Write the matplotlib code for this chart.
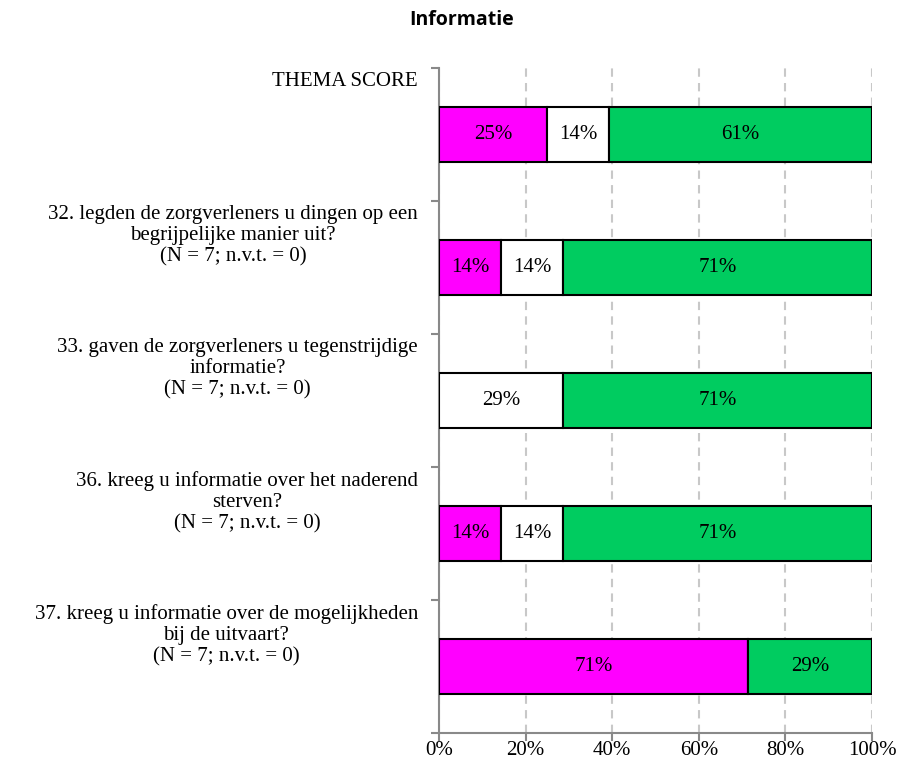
import matplotlib
matplotlib.use("Agg")
import matplotlib.pyplot as plt
import matplotlib.transforms as mtransforms
import numpy as np

labels = [
    "THEMA SCORE",
    "32. legden de zorgverleners u dingen op een\nbegrijpelijke manier uit?\n(N = 7; n.v.t. = 0)",
    "33. gaven de zorgverleners u tegenstrijdige\ninformatie?\n(N = 7; n.v.t. = 0)",
    "36. kreeg u informatie over het naderend\nsterven?\n(N = 7; n.v.t. = 0)",
    "37. kreeg u informatie over de mogelijkheden\nbij de uitvaart?\n(N = 7; n.v.t. = 0)",
]
magenta_vals = [25.0, 14.3, 0.0, 14.3, 71.4]
white_vals = [14.3, 14.3, 28.6, 14.3, 0.0]
green_vals = [60.7, 71.4, 71.4, 71.4, 28.6]

series = [magenta_vals, white_vals, green_vals]
colors = ["#FF00FF", "#FFFFFF", "#00CC60"]

serif = "Liberation Serif"
fs = 15

fig = plt.figure(figsize=(9.03, 7.69), dpi=100)
ax = fig.add_axes([439 / 903, 36 / 769, 433 / 903, 665 / 769])

y = np.arange(len(labels))
left = np.zeros(len(labels))
for vals, c in zip(series, colors):
    vals = np.array(vals)
    ax.barh(y, vals, left=left, height=0.41, color=c, edgecolor="black",
            linewidth=1.5, zorder=3)
    for yi, l, v in zip(y, left, vals):
        if v > 0:
            ax.text(l + v / 2, yi, "%d%%" % round(v), ha="center", va="center",
                    fontsize=fs, family=serif, zorder=4)
    left += vals

ax.set_xlim(0, 100)
ax.set_ylim(len(labels) - 0.5, -0.5)
ax.set_xticks(np.arange(0, 101, 20))
ax.set_xticklabels(["%d%%" % t for t in range(0, 101, 20)], family=serif, fontsize=fs)
ax.set_yticks(np.arange(-0.5, len(labels), 1.0))
ax.set_yticklabels([])
ax.tick_params(axis="both", color="#898989", width=1.5, length=6, direction="out")
ax.tick_params(axis="x", pad=0)

ax.grid(axis="x", color="#C8C8C8", linestyle=(0, (4, 3)), linewidth=1.5, zorder=0)
ax.spines["top"].set_visible(False)
ax.spines["right"].set_visible(False)
for s in ["left", "bottom"]:
    ax.spines[s].set_color("#898989")
    ax.spines[s].set_linewidth(1.5)

trans = mtransforms.blended_transform_factory(fig.transFigure, ax.transData)
for yi, lab in zip(y, labels):
    ax.text(418 / 903, yi - 0.47, lab, transform=trans, ha="right", va="top",
            multialignment="center", fontsize=fs, family=serif, linespacing=1.15)

fig.text(462 / 903, 1 - 20 / 769, "Informatie", ha="center", va="center",
         fontsize=14, fontweight="bold", family="Open Sans")

fig.savefig("out.png", dpi=100)
